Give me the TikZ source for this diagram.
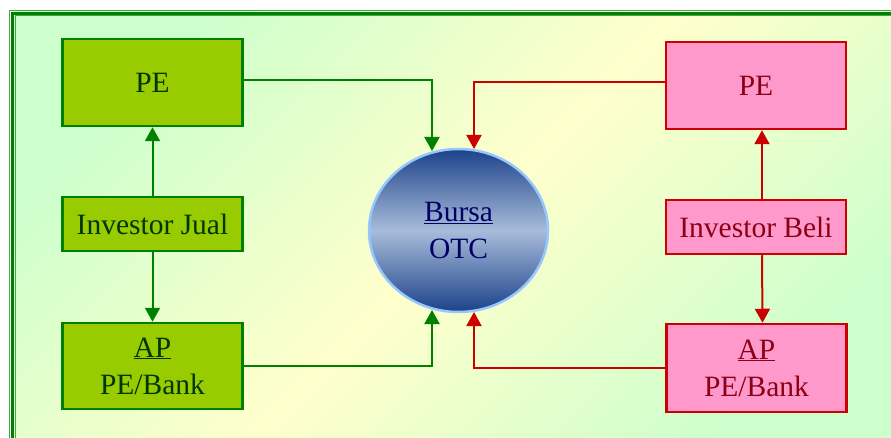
\documentclass[tikz,border=0pt]{standalone}
\usepackage{fontspec}
\setmainfont{Liberation Serif}
\usetikzlibrary{shapes.geometric,arrows.meta,calc}
\definecolor{bgG}{RGB}{204,255,204}
\definecolor{bgY}{RGB}{255,255,204}
\definecolor{frameD}{RGB}{0,128,0}
\definecolor{frameL}{RGB}{70,165,70}
\definecolor{gFill}{RGB}{153,204,0}
\definecolor{gLine}{RGB}{0,128,0}
\definecolor{gText}{RGB}{0,55,0}
\definecolor{rFill}{RGB}{255,153,204}
\definecolor{rLine}{RGB}{204,0,0}
\definecolor{rText}{RGB}{140,0,20}
\definecolor{cDark}{RGB}{28,66,138}
\definecolor{cLight}{RGB}{168,188,218}
\definecolor{cBorder}{RGB}{150,200,255}
\definecolor{cText}{RGB}{0,0,102}
\newcommand{\bigfs}{\fontsize{29.5}{37}\selectfont}
\begin{document}
\begin{tikzpicture}[x=1pt,y=-1pt,
  box/.style={line width=2.5pt, inner sep=0pt, font=\bigfs, align=center, minimum width=180pt},
  gbox/.style={box, draw=gLine, fill=gFill, text=gText},
  rbox/.style={box, draw=rLine, fill=rFill, text=rText},
  tip/.style={-{Triangle[width=15pt,length=14pt]}},
  garrow/.style={draw=gLine, line width=2pt, tip},
  rarrow/.style={draw=rLine, line width=2pt, tip}]
\useasboundingbox (0,0) rectangle (891,438);
\fill[white] (0,0) rectangle (891,438);
\shade[top color=bgG, bottom color=bgG, middle color=bgY, shading angle=45] (11,12) rectangle (905,452);
\draw[frameL, line width=1.2pt] (9.6,10.6) rectangle (930,470);
\draw[frameD, line width=3.5pt] (12.6,13.6) rectangle (930,470);
\draw[frameL, line width=1pt] (15,16) rectangle (930,470);

% green side
\node[gbox, minimum height=87pt] (gpe) at (152.5,82.5) {PE};
\node[gbox, minimum height=54pt] (gij) at (152.5,224) {Investor Jual};
\node[gbox, minimum height=86pt] (gap) at (152.5,366) {\underline{AP}\\PE/Bank};

% red side
\node[rbox, minimum height=87pt] (rpe) at (756,85.5) {PE};
\node[rbox, minimum height=54pt] (rib) at (756,227) {Investor Beli};
\node[rbox, minimum height=88pt] (rap) at (756.5,368) {\underline{AP}\\PE/Bank};

% centre
\node[ellipse, draw=cBorder, line width=2.5pt, top color=cDark, bottom color=cDark, middle color=cLight,
      minimum width=179pt, minimum height=163pt, inner sep=0pt, text=cText, font=\bigfs, align=center]
      (bursa) at (458.5,230.5) {\underline{Bursa}\\OTC};

\coordinate (gtop) at (432,151);
\coordinate (rtop) at (474,149);
\coordinate (gbot) at (432,310);
\coordinate (rbot) at (474,312);

\draw[garrow] ([yshift=2pt]gpe.east) -| (gtop);
\draw[garrow] (gap.east) -| (gbot);
\draw[rarrow] ([yshift=3pt]rpe.west) -| (rtop);
\draw[rarrow] (rap.west) -| (rbot);

\draw[garrow] (gij.north) -- (gpe.south);
\draw[garrow] (gij.south) -- (gap.north);
\draw[rarrow] ([xshift=6pt]rib.north) -- ([xshift=6pt]rpe.south);
\draw[rarrow] ([xshift=6pt]rib.south) -- ([xshift=6pt]rap.north);
\end{tikzpicture}
\end{document}
